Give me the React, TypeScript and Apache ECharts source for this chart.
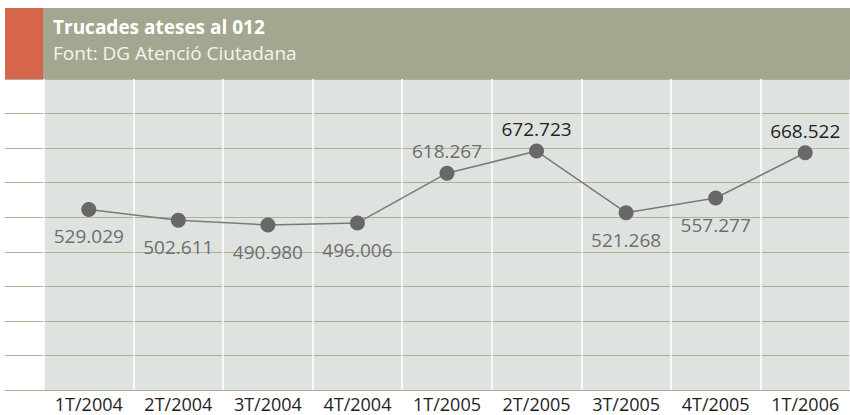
import React, { useEffect, useRef } from "react";
import * as echarts from "echarts";

const title = "Trucades ateses al 012";
const subtitle = "Font: DG Atenció Ciutadana";
const categories = ["1T/2004", "2T/2004", "3T/2004", "4T/2004", "1T/2005", "2T/2005", "3T/2005", "4T/2005", "1T/2006"];
const values = [529029, 502611, 490980, 496006, 618267, 672723, 521268, 557277, 668522];
const aboveIdx = [4, 5, 8];
const highlightIdx = [5, 8];
const yMin = 85000;
const yMax = 850000;
const yStep = 85000;

const fmt = (v: number) => String(v).replace(/\B(?=(\d{3})+(?!\d))/g, ".");

export default function App() {
  const ref = useRef<HTMLDivElement>(null);
  useEffect(() => {
    if (!ref.current) return;
    const chart = echarts.init(ref.current, undefined, { renderer: "svg" });
    const font = "'Open Sans', 'Noto Sans', sans-serif";
    chart.setOption({
      animation: false,
      backgroundColor: "#ffffff",
      textStyle: { fontFamily: font },
      grid: [
        { left: 44, top: 79, width: 813, height: 311, show: true, backgroundColor: "#dfe3e0", borderWidth: 0 },
        { left: 5, top: 79, width: 845, height: 311, show: false },
      ],
      xAxis: [
        {
          type: "category",
          gridIndex: 0,
          data: categories,
          boundaryGap: true,
          axisLine: { show: false },
          axisTick: { show: false },
          axisLabel: { color: "#1e1e1e", fontSize: 18, fontFamily: font, margin: 5 },
          splitLine: { show: true, lineStyle: { color: "#ffffff", width: 1.5 } },
        },
        { type: "value", gridIndex: 1, show: false, min: 0, max: 1 },
      ],
      yAxis: [
        { type: "value", gridIndex: 0, min: yMin, max: yMax, interval: yStep, show: false },
        {
          type: "value",
          gridIndex: 1,
          min: yMin,
          max: yMax,
          interval: yStep,
          axisLine: { show: false },
          axisTick: { show: false },
          axisLabel: { show: false },
          splitLine: { show: true, lineStyle: { color: "#afae96", width: 1.2 } },
        },
      ],
      graphic: [
        { type: "rect", z: 100, shape: { x: 5, y: 8, width: 38, height: 71 }, style: { fill: "#d6654c" } },
        { type: "rect", z: 100, shape: { x: 43, y: 8, width: 807, height: 71 }, style: { fill: "#a4a78f" } },
        {
          type: "text",
          z: 101,
          x: 53,
          y: 27,
          style: { text: title, fill: "#ffffff", font: `bold 19px ${font}`, verticalAlign: "middle" },
        },
        {
          type: "text",
          z: 101,
          x: 53,
          y: 53,
          style: { text: subtitle, fill: "#f4f4ec", font: `19px ${font}`, verticalAlign: "middle" },
        },
      ],
      series: [
        {
          type: "line",
          xAxisIndex: 0,
          yAxisIndex: 0,
          symbol: "circle",
          symbolSize: 15,
          lineStyle: { color: "#7a7a7a", width: 1.5 },
          itemStyle: { color: "#686868" },
          data: values.map((v, i) => ({
            value: v,
            label: {
              show: true,
              position: aboveIdx.includes(i) ? "top" : "bottom",
              distance: aboveIdx.includes(i) ? 5 : 10,
              color: highlightIdx.includes(i) ? "#232323" : "#6e6e6e",
              fontSize: 19,
              fontFamily: font,
              formatter: (p: any) => fmt(p.value),
            },
          })),
        },
      ],
    });
    return () => chart.dispose();
  }, []);
  return <div ref={ref} style={{ position: "absolute", left: 0, top: 0, width: 850, height: 415 }} />;
}
